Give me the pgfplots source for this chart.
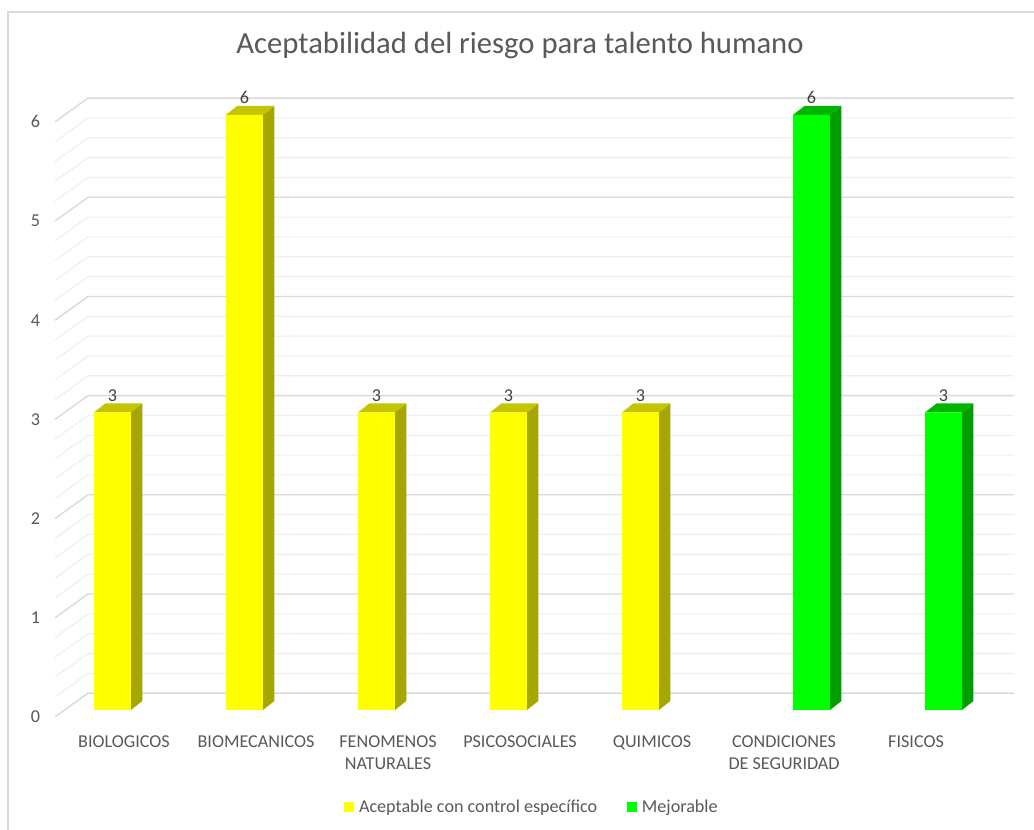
\documentclass[border=0pt]{standalone}
\usepackage{pgfplots}
\pgfplotsset{compat=1.18}
\usepackage{pgfplotstable}
\usepackage{fontspec}
\setmainfont{Carlito}
\definecolor{txt}{HTML}{595959}
\definecolor{lbl}{HTML}{404040}
\definecolor{gmaj}{HTML}{D9D9D9}
\definecolor{gmin}{HTML}{EEEEEE}
\definecolor{bord}{HTML}{D9D9D9}
\definecolor{yfront}{HTML}{FFFF00}
\definecolor{ytop}{HTML}{C4C400}
\definecolor{yside}{HTML}{A6A600}
\definecolor{gfront}{HTML}{00FF00}
\definecolor{gtop}{HTML}{00B400}
\definecolor{gside}{HTML}{009E00}

\pgfplotstableread{
x y
0 3
1 6
2 3
3 3
4 3
}\yel
\pgfplotstableread{
x y
5 6
6 3
}\grn

\newcommand\lblfont{\fontsize{13.6}{16.5}\selectfont}

\begin{document}
\begin{tikzpicture}[x=1pt,y=1pt]
\fill[white] (0,0) rectangle (775.5,622.5);
\useasboundingbox (0,0) rectangle (775.5,622.5);
\draw[bord, line width=1pt] (6,0) -- (6,613.5) -- (775.5,613.5);
\node[font=\fontsize{23}{28}\selectfont, text=txt, anchor=base] at (390,582) {Aceptabilidad del riesgo para talento humano};
\begin{axis}[
  at={(41.25pt,84.75pt)}, anchor=south west,
  scale only axis, width=719.25pt, height=466.4pt,
  xmin=-0.5227, xmax=6.742, ymin=-0.0706, ymax=6.2,
  clip=false,
  axis line style={draw=none},
  major tick length=0pt,
  xtick={0,1,2,3,4,5,6},
  xticklabels={BIOLOGICOS, BIOMECANICOS, {FENOMENOS\\NATURALES}, PSICOSOCIALES, QUIMICOS, {CONDICIONES\\DE SEGURIDAD}, FISICOS},
  xticklabel style={font=\lblfont, text=txt, align=center, inner sep=0pt, anchor=north, yshift=-13.5pt},
  ytick={-0.07,0.93,1.93,2.93,3.93,4.93,5.93},
  yticklabels={0,1,2,3,4,5,6},
  yticklabel style={font=\lblfont, text=txt, inner sep=0pt, anchor=east, xshift=-11pt},
  /pgf/number format/assume math mode=true,
  legend style={at={(0.496,-0.1447)}, anchor=center, draw=none, fill=none, inner sep=0pt,
    font=\lblfont, text=txt, legend columns=2,
    nodes={inner sep=0pt},
    /tikz/every odd column/.append style={column sep=4pt},
    /tikz/every even column/.append style={column sep=22pt}},
  legend image code/.code={\draw[#1,draw=none] (0pt,-3.75pt) rectangle (7.5pt,3.75pt);},
]
% gridlines (back wall and left diagonals)
\pgfplotsinvokeforeach{0,...,30}{
  \pgfmathsetmacro\vf{#1/5-0.07}
  \pgfmathsetmacro\vb{#1/5+0.17}
  \pgfmathtruncatemacro\mm{mod(#1,5)}
  \ifnum\mm=0 \def\gc{gmaj}\def\gw{1pt}\else\def\gc{gmin}\def\gw{0.8pt}\fi
  \edef\temp{\noexpand\addplot[forget plot, draw=\gc, line width=\gw] coordinates {(-0.5227,\vf) (-0.273,\vb) (6.742,\vb)};}
  \temp
}
% side and top faces, yellow
\pgfplotsinvokeforeach{0,...,4}{
  \pgfplotstablegetelem{#1}{x}\of\yel \let\cx=\pgfplotsretval
  \pgfplotstablegetelem{#1}{y}\of\yel \let\cy=\pgfplotsretval
  \pgfmathsetmacro\xl{\cx-0.228}
  \pgfmathsetmacro\xr{\cx+0.052}
  \pgfmathsetmacro\xlb{\xl+0.087}
  \pgfmathsetmacro\xrb{\xr+0.087}
  \pgfmathsetmacro\yt{\cy+0.091}
  \edef\temp{\noexpand\addplot[forget plot, fill=yside, draw=none] coordinates {(\xr,0) (\xrb,0.091) (\xrb,\yt) (\xr,\cy)} -- cycle;
  \noexpand\addplot[forget plot, fill=ytop, draw=none] coordinates {(\xl,\cy) (\xr,\cy) (\xrb,\yt) (\xlb,\yt)} -- cycle;}
  \temp
}
% side and top faces, green
\pgfplotsinvokeforeach{0,1}{
  \pgfplotstablegetelem{#1}{x}\of\grn \let\cx=\pgfplotsretval
  \pgfplotstablegetelem{#1}{y}\of\grn \let\cy=\pgfplotsretval
  \pgfmathsetmacro\xl{\cx+0.068}
  \pgfmathsetmacro\xr{\cx+0.348}
  \pgfmathsetmacro\xlb{\xl+0.087}
  \pgfmathsetmacro\xrb{\xr+0.087}
  \pgfmathsetmacro\yt{\cy+0.091}
  \edef\temp{\noexpand\addplot[forget plot, fill=gside, draw=none] coordinates {(\xr,0) (\xrb,0.091) (\xrb,\yt) (\xr,\cy)} -- cycle;
  \noexpand\addplot[forget plot, fill=gtop, draw=none] coordinates {(\xl,\cy) (\xr,\cy) (\xrb,\yt) (\xlb,\yt)} -- cycle;}
  \temp
}
% front faces
\addplot[ybar, bar width=0.28, bar shift=0, fill=yfront, draw=none,
  nodes near coords, nodes near coords style={font=\lblfont, text=lbl, inner sep=0pt, anchor=south, yshift=8.25pt}]
  table[x expr=\thisrow{x}-0.088, y=y]{\yel};
\addlegendentry{Aceptable con control específico}
\addplot[ybar, bar width=0.28, bar shift=0, fill=gfront, draw=none,
  nodes near coords, nodes near coords style={font=\lblfont, text=lbl, inner sep=0pt, anchor=south, yshift=8.25pt}]
  table[x expr=\thisrow{x}+0.208, y=y]{\grn};
\addlegendentry{Mejorable}
\end{axis}
\end{tikzpicture}
\end{document}
